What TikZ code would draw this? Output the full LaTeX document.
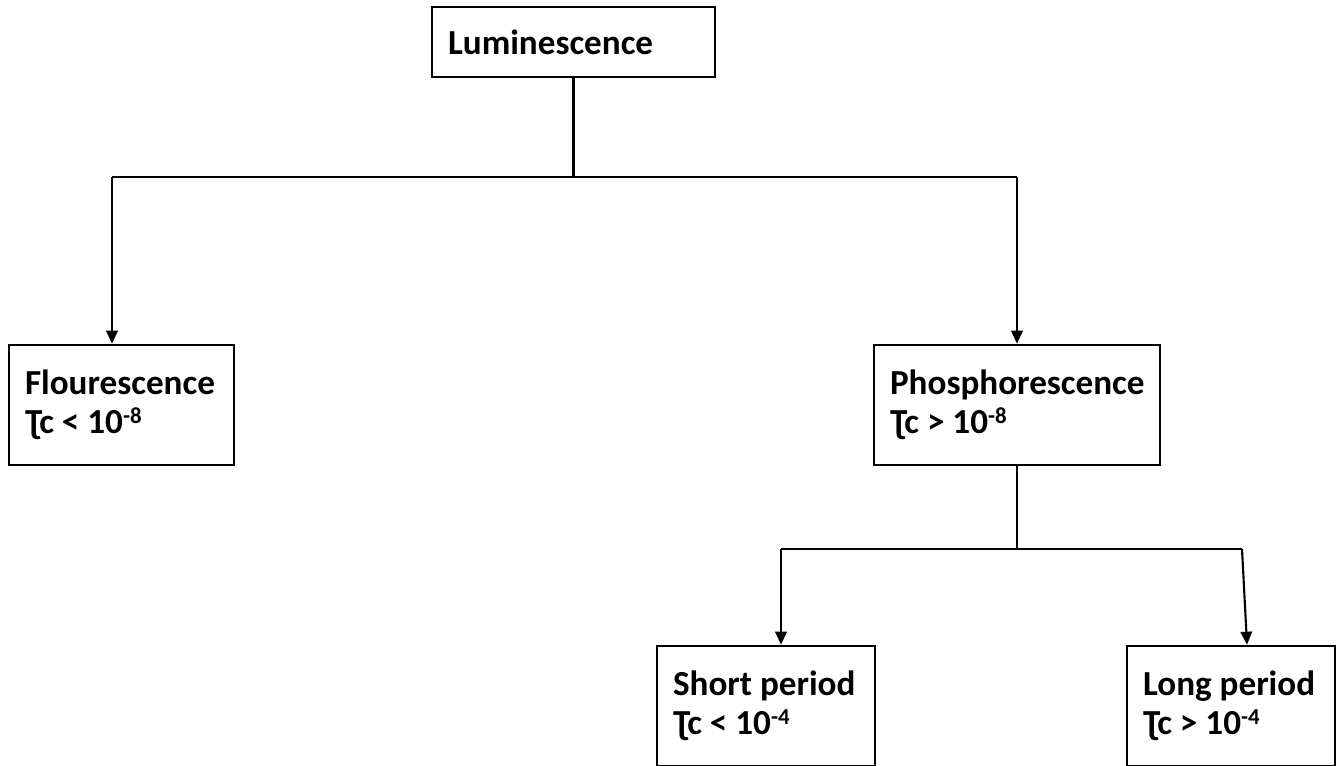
\documentclass[tikz,border=0pt]{standalone}
\usepackage{fontspec}
\setmainfont{Carlito}
\usetikzlibrary{arrows.meta,positioning,calc}
\tikzset{
  arrow/.style={-{Triangle[length=2.6mm,width=2.3mm]},black,line width=1.2pt},
  link/.style={black,line width=1.2pt},
  box/.style={draw=black,line width=1.5pt,fill=white,inner xsep=3.2mm,
              align=flush left,text width=#1,minimum height=2.4cm,
              font=\fontsize{20}{22}\selectfont\bfseries},
}
\newcommand{\tauc}{Ʈc}
\newcommand{\expo}[1]{\raisebox{0.6ex}{\fontsize{13}{13}\selectfont #1}}

\begin{document}
\begin{tikzpicture}[x=0.02cm,y=-0.02cm]
    \useasboundingbox (0,0) rectangle (1342,765);
    \clip (0,0) rectangle (1342,765);

    \node[box=5.02cm,minimum height=1.4cm] (lum) at (573.5,42) {Luminescence};
    \node[box=3.86cm] (flour) at (121.5,405) {Flourescence\\\tauc{} < 10\expo{-8}};
    \node[box=5.08cm] (phos) at (1017,405) {Phosphorescence\\\tauc{} > 10\expo{-8}};
    \node[box=3.72cm] (short) at (766,706) {Short period\\\tauc{} < 10\expo{-4}};
    \node[box=3.52cm] (long) at (1231,706) {Long period\\\tauc{} > 10\expo{-4}};

    % first split
    \coordinate (top) at (lum.south |- 0,177);
    \coordinate (fl) at (112,177);
    \coordinate (ph) at (phos.north |- 0,177);
    \draw[link] (lum.south) -- (top);
    \draw[link] (fl) -- (ph);
    \draw[arrow] (fl) -- (fl |- flour.north);
    \draw[arrow] (ph) -- (phos.north);

    % second split
    \coordinate (mid) at (phos.south |- 0,549);
    \coordinate (sp) at (781,549);
    \coordinate (lp) at (1242,549);
    \coordinate (lpend) at (1247,0);
    \draw[link] (phos.south) -- (mid);
    \draw[link] (sp) -- (lp);
    \draw[arrow] (sp) -- (sp |- short.north);
    \draw[arrow] (lp) -- (lpend |- long.north);
\end{tikzpicture}
\end{document}
